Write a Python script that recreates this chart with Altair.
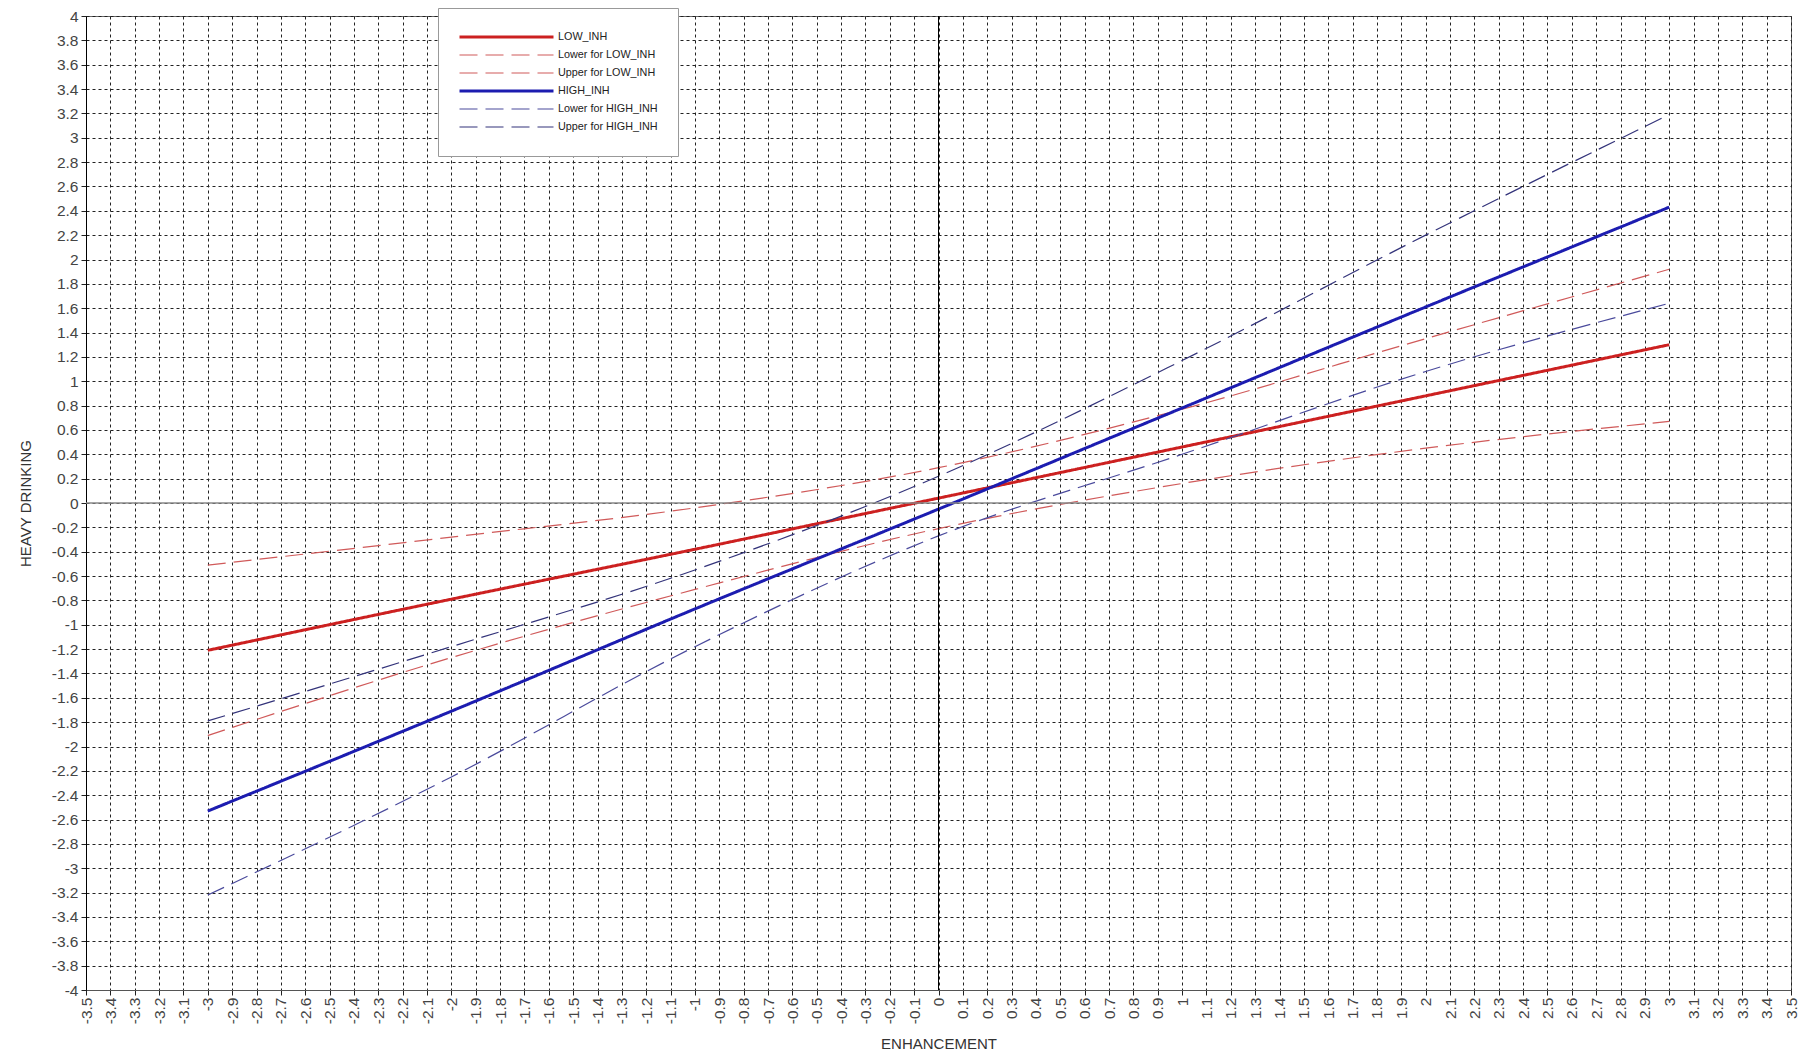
import altair as alt
import pandas as pd

# ---- data ----
x_vals = [-3, -2, -1, 0, 1, 2, 3]
low_inh = [-1.21, -0.79, -0.38, 0.04, 0.46, 0.88, 1.30]
lower_low = [-1.91, -1.27, -0.71, -0.21, 0.16, 0.45, 0.67]
upper_low = [-0.51, -0.28, -0.04, 0.29, 0.77, 1.35, 1.92]
high_inh = [-2.53, -1.71, -0.87, -0.05, 0.78, 1.61, 2.43]
lower_high = [-3.22, -2.25, -1.18, -0.27, 0.40, 1.08, 1.64]
upper_high = [-1.79, -1.18, -0.55, 0.22, 1.17, 2.20, 3.19]

series_names = ["LOW_INH", "Lower for LOW_INH", "Upper for LOW_INH",
                "HIGH_INH", "Lower for HIGH_INH", "Upper for HIGH_INH"]
series_values = [low_inh, lower_low, upper_low, high_inh, lower_high, upper_high]

x_ticks = [round(i / 10, 1) for i in range(-35, 36)]
y_ticks = [round(i / 5, 1) for i in range(-20, 21)]

# ---- styles ----
colors = ["#cc2020", "#d05a5a", "#d05a5a", "#1c1cb0", "#4a4a9c", "#33337a"]
widths = [3, 1.2, 1.2, 3, 1.2, 1.2]
dashes = [[1, 0], [18, 8], [18, 8], [1, 0], [18, 8], [18, 8]]

rows = []
for name, vals in zip(series_names, series_values):
    for xv, yv in zip(x_vals, vals):
        rows.append({"series": name, "x": xv, "y": yv})
df = pd.DataFrame(rows)

FONT = "Liberation Sans"
MINUS_FIX = "replace(datum.label, '\u2212', '-')"

legend = alt.Legend(
    title=None, orient="none", legendX=352, legendY=-8,
    symbolType="stroke", symbolSize=8836, clipHeight=18, rowPadding=0,
    labelFontSize=10.8, labelFont=FONT, labelColor="#222", labelOffset=3,
    padding=20, fillColor="white", strokeColor="#999",
)

x_axis = alt.Axis(
    values=x_ticks, format="~g", labelExpr=MINUS_FIX, labelAngle=270,
    labelFont=FONT, labelFontSize=15.5, labelColor="#444", labelOverlap=False,
    labelPadding=2, tickSize=5, tickColor="#222", domainColor="#555",
    grid=True, gridColor="#222", gridDash=[3, 3], gridWidth=1,
    title="ENHANCEMENT", titleFont=FONT, titleFontSize=15,
    titleFontWeight="normal", titleColor="#333", titlePadding=13,
)
y_axis = alt.Axis(
    values=y_ticks, format="~g", labelExpr=MINUS_FIX,
    labelFont=FONT, labelFontSize=15.5, labelColor="#444", labelOverlap=False,
    labelPadding=3, tickSize=5, tickColor="#222", domainColor="#000",
    grid=True, gridColor="#222", gridDash=[3, 3], gridWidth=1,
    title="HEAVY DRINKING", titleFont=FONT, titleFontSize=15,
    titleFontWeight="normal", titleColor="#333", titlePadding=18,
)

xs = alt.Scale(domain=[-3.5, 3.5], nice=False, zero=False)
ys = alt.Scale(domain=[-4, 4], nice=False, zero=False)

lines = alt.Chart(df).mark_line(interpolate="monotone").encode(
    x=alt.X("x:Q", scale=xs, axis=x_axis),
    y=alt.Y("y:Q", scale=ys, axis=y_axis),
    color=alt.Color("series:N", scale=alt.Scale(domain=series_names, range=colors), legend=legend),
    strokeDash=alt.StrokeDash("series:N", scale=alt.Scale(domain=series_names, range=dashes), legend=legend),
    strokeWidth=alt.StrokeWidth("series:N", scale=alt.Scale(type="ordinal", domain=series_names, range=widths), legend=legend),
)

zero_df = pd.DataFrame({"x": [0], "y": [0]})
vrule = alt.Chart(zero_df).mark_rule(color="#000", strokeWidth=1).encode(
    x=alt.X("x:Q", scale=xs, axis=x_axis))
hrule = alt.Chart(zero_df).mark_rule(color="#888", strokeWidth=1.5).encode(
    y=alt.Y("y:Q", scale=ys, axis=y_axis))

chart = alt.layer(lines, vrule, hrule).properties(
    width=1705, height=974,
    autosize=alt.AutoSizeParams(type="none"),
    padding={"left": 78, "top": 8, "right": 12, "bottom": 63},
).configure_view(stroke="#666", strokeWidth=1).configure_axis(labelOverlap=False)

chart.save("out.html", embed_options={"renderer": "svg", "actions": False})
